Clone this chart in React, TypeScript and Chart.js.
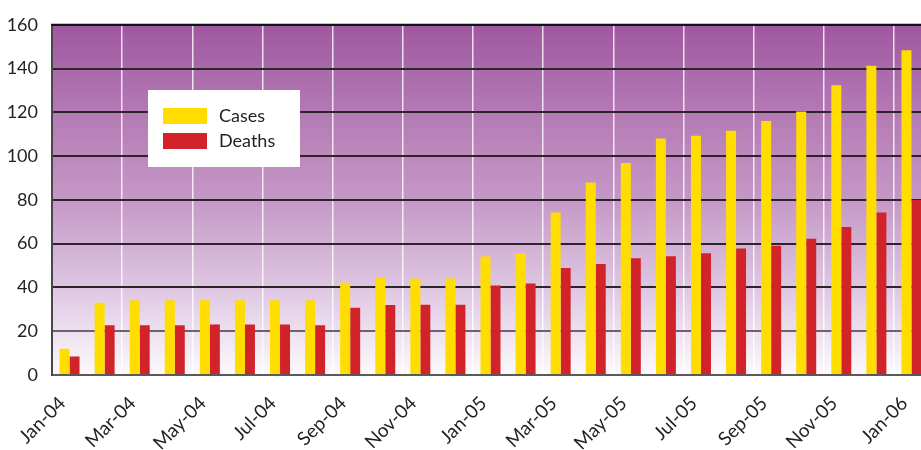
import React, { useEffect, useRef } from "react";
import { Chart, registerables } from "chart.js";

Chart.register(...registerables);

const months = [
  "Jan-04", "Feb-04", "Mar-04", "Apr-04", "May-04", "Jun-04", "Jul-04", "Aug-04", "Sep-04", "Oct-04", "Nov-04", "Dec-04",
  "Jan-05", "Feb-05", "Mar-05", "Apr-05", "May-05", "Jun-05", "Jul-05", "Aug-05", "Sep-05", "Oct-05", "Nov-05", "Dec-05",
  "Jan-06",
];
const cases = [12, 33, 34.2, 34.2, 34.2, 34.2, 34.2, 34.2, 42.2, 44.4, 44.1, 44.1, 54.1, 55.6, 74.2, 88, 96.9, 108, 109.3, 111.6, 116, 120.4, 132.4, 141.3, 148.4];
const deaths = [8.4, 22.7, 22.7, 22.7, 23.1, 23.1, 23.1, 22.7, 30.7, 32, 32.1, 32.1, 40.9, 41.8, 48.9, 50.7, 53.3, 54.2, 55.6, 57.8, 59.1, 62.2, 67.6, 74.2, 80];
const yTicks = [0, 20, 40, 60, 80, 100, 120, 140, 160];

const FONT = "Lato, 'DejaVu Sans', sans-serif";
const TEXT = "#231f20";

const bgPlugin = {
  id: "bgGradient",
  beforeDraw(chart: any) {
    const { ctx, chartArea } = chart;
    if (!chartArea) return;
    const g = ctx.createLinearGradient(0, chartArea.top, 0, chartArea.bottom);
    g.addColorStop(0, "rgb(159,88,160)");
    g.addColorStop(0.25, "rgb(180,122,180)");
    g.addColorStop(0.5, "rgb(197,152,198)");
    g.addColorStop(0.75, "rgb(222,198,226)");
    g.addColorStop(1, "rgb(252,250,252)");
    ctx.save();
    ctx.fillStyle = g;
    ctx.fillRect(chartArea.left, chartArea.top, chartArea.right - chartArea.left, chartArea.bottom - chartArea.top);
    ctx.restore();
  },
  afterDraw(chart: any) {
    const { ctx, chartArea } = chart;
    ctx.save();
    ctx.strokeStyle = "#111";
    ctx.lineWidth = 2;
    ctx.beginPath();
    ctx.moveTo(chartArea.left - 1, chartArea.top);
    ctx.lineTo(chartArea.right, chartArea.top);
    ctx.stroke();
    const bx = 148, by = 90, bw = 152, bh = 77;
    ctx.fillStyle = "#ffffff";
    ctx.fillRect(bx, by, bw, bh);
    ctx.font = `18px ${FONT}`;
    ctx.textBaseline = "middle";
    ctx.textAlign = "left";
    chart.data.datasets.forEach((ds: any, i: number) => {
      const y = 108 + i * 25;
      ctx.fillStyle = ds.backgroundColor;
      ctx.fillRect(163, y, 44, 16);
      ctx.fillStyle = TEXT;
      ctx.fillText(ds.label, 219, y + 8);
    });
    ctx.restore();
  },
};

export default function App() {
  const ref = useRef<HTMLCanvasElement>(null);
  useEffect(() => {
    const chart = new Chart(ref.current!, {
      type: "bar",
      data: {
        labels: months,
        datasets: [
          { label: "Cases", data: cases, backgroundColor: "#FFDD00", categoryPercentage: 0.57, barPercentage: 1 },
          { label: "Deaths", data: deaths, backgroundColor: "#D2232A", categoryPercentage: 0.57, barPercentage: 1 },
        ],
      },
      plugins: [bgPlugin],
      options: {
        responsive: false,
        animation: false,
        devicePixelRatio: 1,
        layout: { padding: { top: 15, right: 1, left: 0, bottom: 0 } },
        plugins: { legend: { display: false }, tooltip: { enabled: false } },
        scales: {
          x: {
            afterFit(scale: any) {
              scale.height = 75;
              scale.paddingLeft = 0;
              scale.paddingRight = 0;
            },
            grid: {
              offset: true,
              drawTicks: false,
              lineWidth: 1.5,
              color: (c: any) => (c.index % 2 === 0 && c.index > 0 ? "rgba(255,255,255,0.8)" : "rgba(0,0,0,0)"),
            },
            border: { display: true, color: "#5a5a5a", width: 2 },
            ticks: {
              autoSkip: false,
              minRotation: 45,
              maxRotation: 45,
              padding: 17,
              labelOffset: -7,
              color: TEXT,
              font: { family: FONT, size: 19 },
              callback: (_v: any, i: number) => (i % 2 === 0 ? months[i] : ""),
            },
          },
          y: {
            min: 0,
            max: 160,
            afterFit(scale: any) {
              scale.width = 52;
            },
            afterBuildTicks(scale: any) {
              scale.ticks = yTicks.map((v) => ({ value: v }));
            },
            grid: {
              drawTicks: false,
              lineWidth: 2,
              color: (c: any) => (c.tick && c.tick.value === 20 ? "#6a656b" : c.tick && c.tick.value === 0 ? "#5a5a5a" : "#2d2529"),
            },
            border: { display: true, color: "#4a464a", width: 2 },
            ticks: {
              padding: 14,
              color: TEXT,
              font: { family: FONT, size: 18 },
            },
          },
        },
      },
    });
    return () => chart.destroy();
  }, []);
  return (
    <div style={{ position: "fixed", left: 0, top: 0, width: 921, height: 450, overflow: "hidden", background: "#fff" }}>
      <canvas ref={ref} width={930} height={450} style={{ display: "block" }} />
    </div>
  );
}
